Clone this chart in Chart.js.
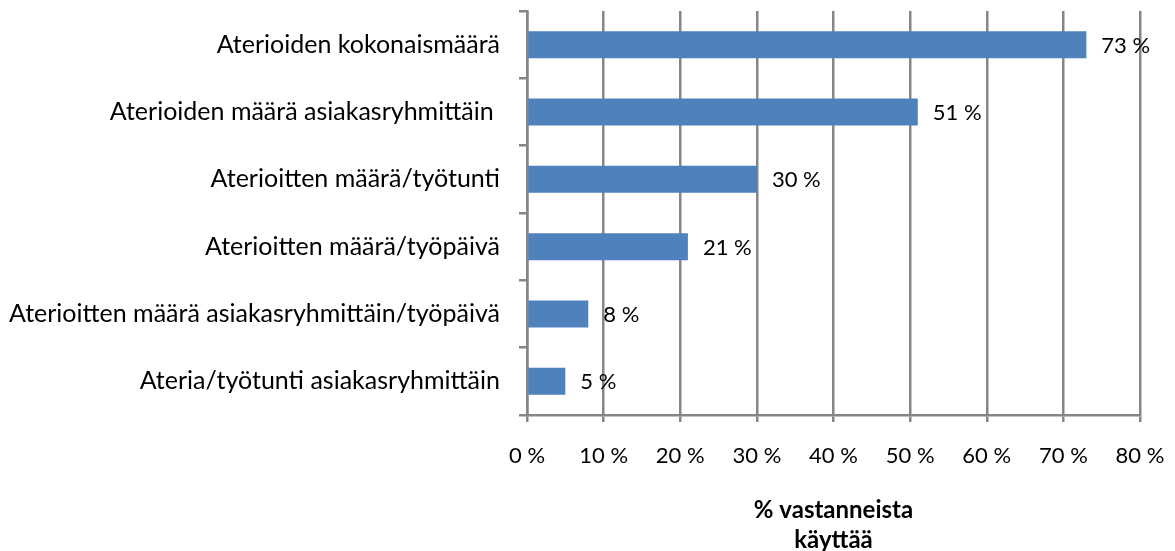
<!DOCTYPE html>
<html>
<head>
<meta charset="utf-8">
<script src="https://cdn.jsdelivr.net/npm/chart.js@4"></script>
<style>
html,body{margin:0;padding:0;background:#fff;}
#wrap{width:1175px;height:551px;position:relative;}
</style>
</head>
<body>
<div id="wrap"><canvas id="c" width="1175" height="551"></canvas></div>
<script>
const categories = [
  'Aterioiden kokonaismäärä',
  'Aterioiden määrä asiakasryhmittäin ',
  'Aterioitten määrä/työtunti',
  'Aterioitten määrä/työpäivä',
  'Aterioitten määrä asiakasryhmittäin/työpäivä',
  'Ateria/työtunti asiakasryhmittäin'
];
const values = [73, 51, 30, 21, 8, 5];
const xTicks = [0, 10, 20, 30, 40, 50, 60, 70, 80];
const axisTitle = ['% vastanneista', 'käyttää'];

const FONT = 'Lato';
const GRID = '#868686';

const labelPlugin = {
  id: 'barLabels',
  afterDatasetsDraw(chart) {
    const ctx = chart.ctx;
    const meta = chart.getDatasetMeta(0);
    ctx.save();
    ctx.font = '22px ' + FONT;
    ctx.fillStyle = '#000';
    ctx.textAlign = 'left';
    ctx.textBaseline = 'middle';
    meta.data.forEach((bar, i) => {
      ctx.fillText(values[i] + ' %', bar.x + 15, bar.y + 1);
    });
    ctx.restore();
  }
};

new Chart(document.getElementById('c'), {
  type: 'bar',
  data: {
    labels: categories,
    datasets: [{
      data: values,
      backgroundColor: '#4F81BD',
      borderWidth: 0,
      barPercentage: 0.4,
      categoryPercentage: 1.0
    }]
  },
  options: {
    indexAxis: 'y',
    responsive: false,
    animation: false,
    layout: { padding: { top: 11, right: 35, left: 0, bottom: 0 } },
    plugins: { legend: { display: false }, tooltip: { enabled: false } },
    scales: {
      x: {
        min: 0, max: 80,
        afterBuildTicks(scale) { scale.ticks = xTicks.map(v => ({ value: v })); },
        afterFit(scale) { scale.height = 136; scale.paddingLeft = 0; scale.paddingRight = 0; },
        grid: { color: GRID, lineWidth: 2.5, drawTicks: true, tickLength: 7, tickColor: GRID },
        border: { color: GRID, width: 2.5 },
        ticks: {
          color: '#000', padding: 21,
          font: { family: FONT, size: 22 },
          callback: v => v + ' %'
        },
        title: {
          display: true, text: axisTitle, color: '#000',
          font: { family: FONT, size: 24, weight: 'bold', lineHeight: '30px' },
          padding: { top: 0, bottom: -4 }
        }
      },
      y: {
        afterFit(scale) { scale.width = 527; scale.paddingTop = 0; scale.paddingBottom = 0; },
        grid: { drawOnChartArea: false, drawTicks: true, tickLength: 8, color: GRID, lineWidth: 2.5, offset: true },
        border: { color: GRID, width: 2.5 },
        ticks: { color: '#000', padding: 19, font: { family: FONT, size: 25 } }
      }
    }
  },
  plugins: [labelPlugin]
});
</script>
</body>
</html>
